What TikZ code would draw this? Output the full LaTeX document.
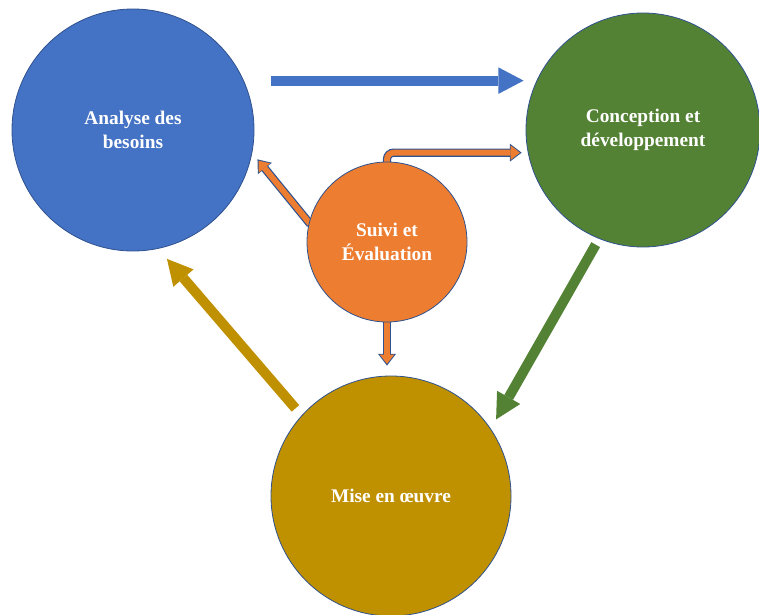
\documentclass[tikz,border=0pt]{standalone}
\usepackage{fontspec}
\setmainfont{Liberation Serif}
\usepackage{tikz}
\usetikzlibrary{arrows.meta,backgrounds}
\definecolor{needsblue}{HTML}{4472C4}
\definecolor{buildgreen}{HTML}{548235}
\definecolor{rungold}{HTML}{BF9000}
\definecolor{checkorange}{HTML}{ED7D31}
\definecolor{rimblue}{HTML}{2F528F}
\newcommand{\rimcolor}{rimblue}
\newcommand{\shaft}{7.5pt}

\tikzset{
  phase/.style={circle, draw=\rimcolor, line width=0.6pt, text=white, align=center,
    inner sep=0pt, font=\bfseries\fontsize{14.5}{18.5}\selectfont},
  flow/.style={line width=\shaft, -{Triangle[width=20pt,length=19pt,line width=0pt]}},
  feedback/.style={draw=checkorange, line width=4.4pt, shorten >=1.3pt,
    -{Triangle[width=11pt,length=7pt,line width=0pt]},
    preaction={draw=\rimcolor, line width=6.2pt, shorten >=0pt,
      -{Triangle[width=13.5pt,length=8.8pt,line width=0pt]}}}
}

\begin{document}
\begin{tikzpicture}[x=0.75pt, y=-0.75pt]
\useasboundingbox (0,0) rectangle (759,614);
\node[phase, fill=needsblue, minimum size=181.5pt] (analyse) at (133,130) {Analyse des\\besoins};
\node[phase, fill=buildgreen, minimum size=175.5pt] (conception) at (643,130) {Conception et\\développement};
\node[phase, fill=checkorange, minimum size=120pt] (suivi) at (387,242) {Suivi et\\Évaluation};
\node[phase, fill=rungold, minimum size=180pt] (mise) at (391,496) {Mise en œuvre};
%cycle
\draw[flow, needsblue, shorten <=20pt, shorten >=1.5pt] (analyse.24) -- (analyse.24 -| conception.west);
\draw[flow, buildgreen, shorten <=5pt, shorten >=8pt] (conception.248) -- (mise.34);
\draw[flow, rungold, shorten <=7pt, shorten >=10pt] (mise.138) -- (analyse.282);
%feedback
\coordinate (down end) at ([yshift=7.5pt]mise.north);
\begin{scope}[on background layer]
\draw[feedback, rounded corners=5pt] (suivi.center) |- ([xshift=-3pt,yshift=-17pt]conception.west);
\draw[feedback] (suivi.center |- suivi.166) -- (suivi.166) -- ([xshift=5pt]analyse.346);
\draw[feedback] (suivi.center) -- (suivi.center |- down end);
\end{scope}
\end{tikzpicture}
\end{document}
